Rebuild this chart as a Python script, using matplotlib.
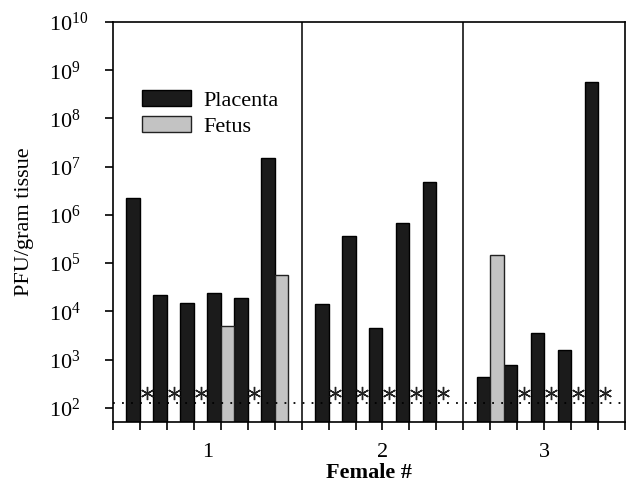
import matplotlib.pyplot as plt
from matplotlib.patches import Patch
from matplotlib.ticker import FixedLocator, NullLocator, LogFormatterMathtext

plt.rcParams['font.family'] = ['Liberation Serif', 'DejaVu Serif']
plt.rcParams['mathtext.fontset'] = 'custom'
plt.rcParams['mathtext.rm'] = 'Liberation Serif'
plt.rcParams['mathtext.it'] = 'Liberation Serif:italic'
plt.rcParams['mathtext.bf'] = 'Liberation Serif:bold'

# Female number and PFU/gram tissue for each placenta / fetus pair (None = below detection)
females = ['1', '2', '3']
placenta = [
    [2.3e6, 2.2e4, 1.5e4, 2.4e4, 1.9e4, 1.5e7],
    [1.4e4, 3.6e5, 4.6e3, 6.9e5, 4.9e6],
    [4.3e2, 7.9e2, 3.5e3, 1.55e3, 5.8e8],
]
fetus = [
    [None, None, None, 5.1e3, None, 5.8e4],
    [None, None, None, None, None],
    [1.5e5, None, None, None, None],
]
detection_limit = 125

col_placenta = '#1b1b1b'
col_fetus = '#c3c3c3'

fig = plt.figure(figsize=(6.27, 4.84), dpi=100)
ax = fig.add_axes([0.1802, 0.1281, 0.8166, 0.8264])

# Each sample sits on its own x slot; groups are separated by an empty slot with a divider
start = 0
boundaries = [0]
centers = []
for g, (pl, fe) in enumerate(zip(placenta, fetus)):
    pos = [start + 1 + k for k in range(len(pl))]
    ax.bar([p - 0.25 for p in pos], pl, width=0.5, bottom=0, color=col_placenta,
           edgecolor='black', linewidth=1, zorder=2)
    fx = [p + 0.25 for p, v in zip(pos, fe) if v is not None]
    fv = [v for v in fe if v is not None]
    ax.bar(fx, fv, width=0.5, color=col_fetus, edgecolor='#222222', linewidth=1, zorder=2)
    # Asterisk where the fetus was below the detection limit
    nx = [p + 0.25 for p, v in zip(pos, fe) if v is None]
    ax.plot(nx, [detection_limit * 1.6] * len(nx), linestyle='none', marker=(6, 2, 0),
            markersize=9.5, markeredgewidth=1.0, color='#222222', zorder=4)
    start = start + len(pl) + 1
    boundaries.append(start)
    centers.append((boundaries[-2] + boundaries[-1]) / 2)

for b in boundaries[1:-1]:
    ax.axvline(b, color='black', linewidth=1.1, zorder=3)

ax.axhline(detection_limit, color='black', linestyle=(0, (1, 4)), linewidth=1.3, zorder=3)

ax.set_yscale('log')
ax.set_ylim(51, 1e10)
ax.set_xlim(boundaries[0], boundaries[-1])

ax.yaxis.set_major_locator(FixedLocator([10.0 ** k for k in range(2, 11)]))
ax.yaxis.set_major_formatter(LogFormatterMathtext())
ax.yaxis.set_minor_locator(NullLocator())
ax.tick_params(axis='y', which='major', direction='out', length=6, width=1.2,
               labelsize=16, pad=40)
plt.setp(ax.get_yticklabels(), ha='left')

# group numbers sit on minor ticks that share positions with major ticks
ax.xaxis.remove_overlapping_locs = False
ax.set_xticks(range(boundaries[0], boundaries[-1] + 1))
ax.set_xticklabels([])
ax.set_xticks(centers, minor=True)
ax.set_xticklabels(females, minor=True)
ax.tick_params(axis='x', which='major', direction='out', length=6, width=1.2)
ax.tick_params(axis='x', which='minor', length=0, labelsize=16, pad=15)

for s in ax.spines.values():
    s.set_linewidth(1.2)

ax.set_ylabel('PFU/gram tissue', fontsize=16, labelpad=11)
fig.text(0.589, 0.043, 'Female #', fontsize=16, fontweight='bold', ha='center', va='top')

handles = [Patch(facecolor=col_placenta, edgecolor='black', label='Placenta'),
           Patch(facecolor=col_fetus, edgecolor='#222222', label='Fetus')]
ax.legend(handles=handles, loc='upper left', bbox_to_anchor=(0.057, 0.83), frameon=False,
          fontsize=16, handlelength=2.2, handleheight=0.7, handletextpad=0.55,
          labelspacing=0.25, borderpad=0, borderaxespad=0)

fig.savefig('out.png', dpi=100)
